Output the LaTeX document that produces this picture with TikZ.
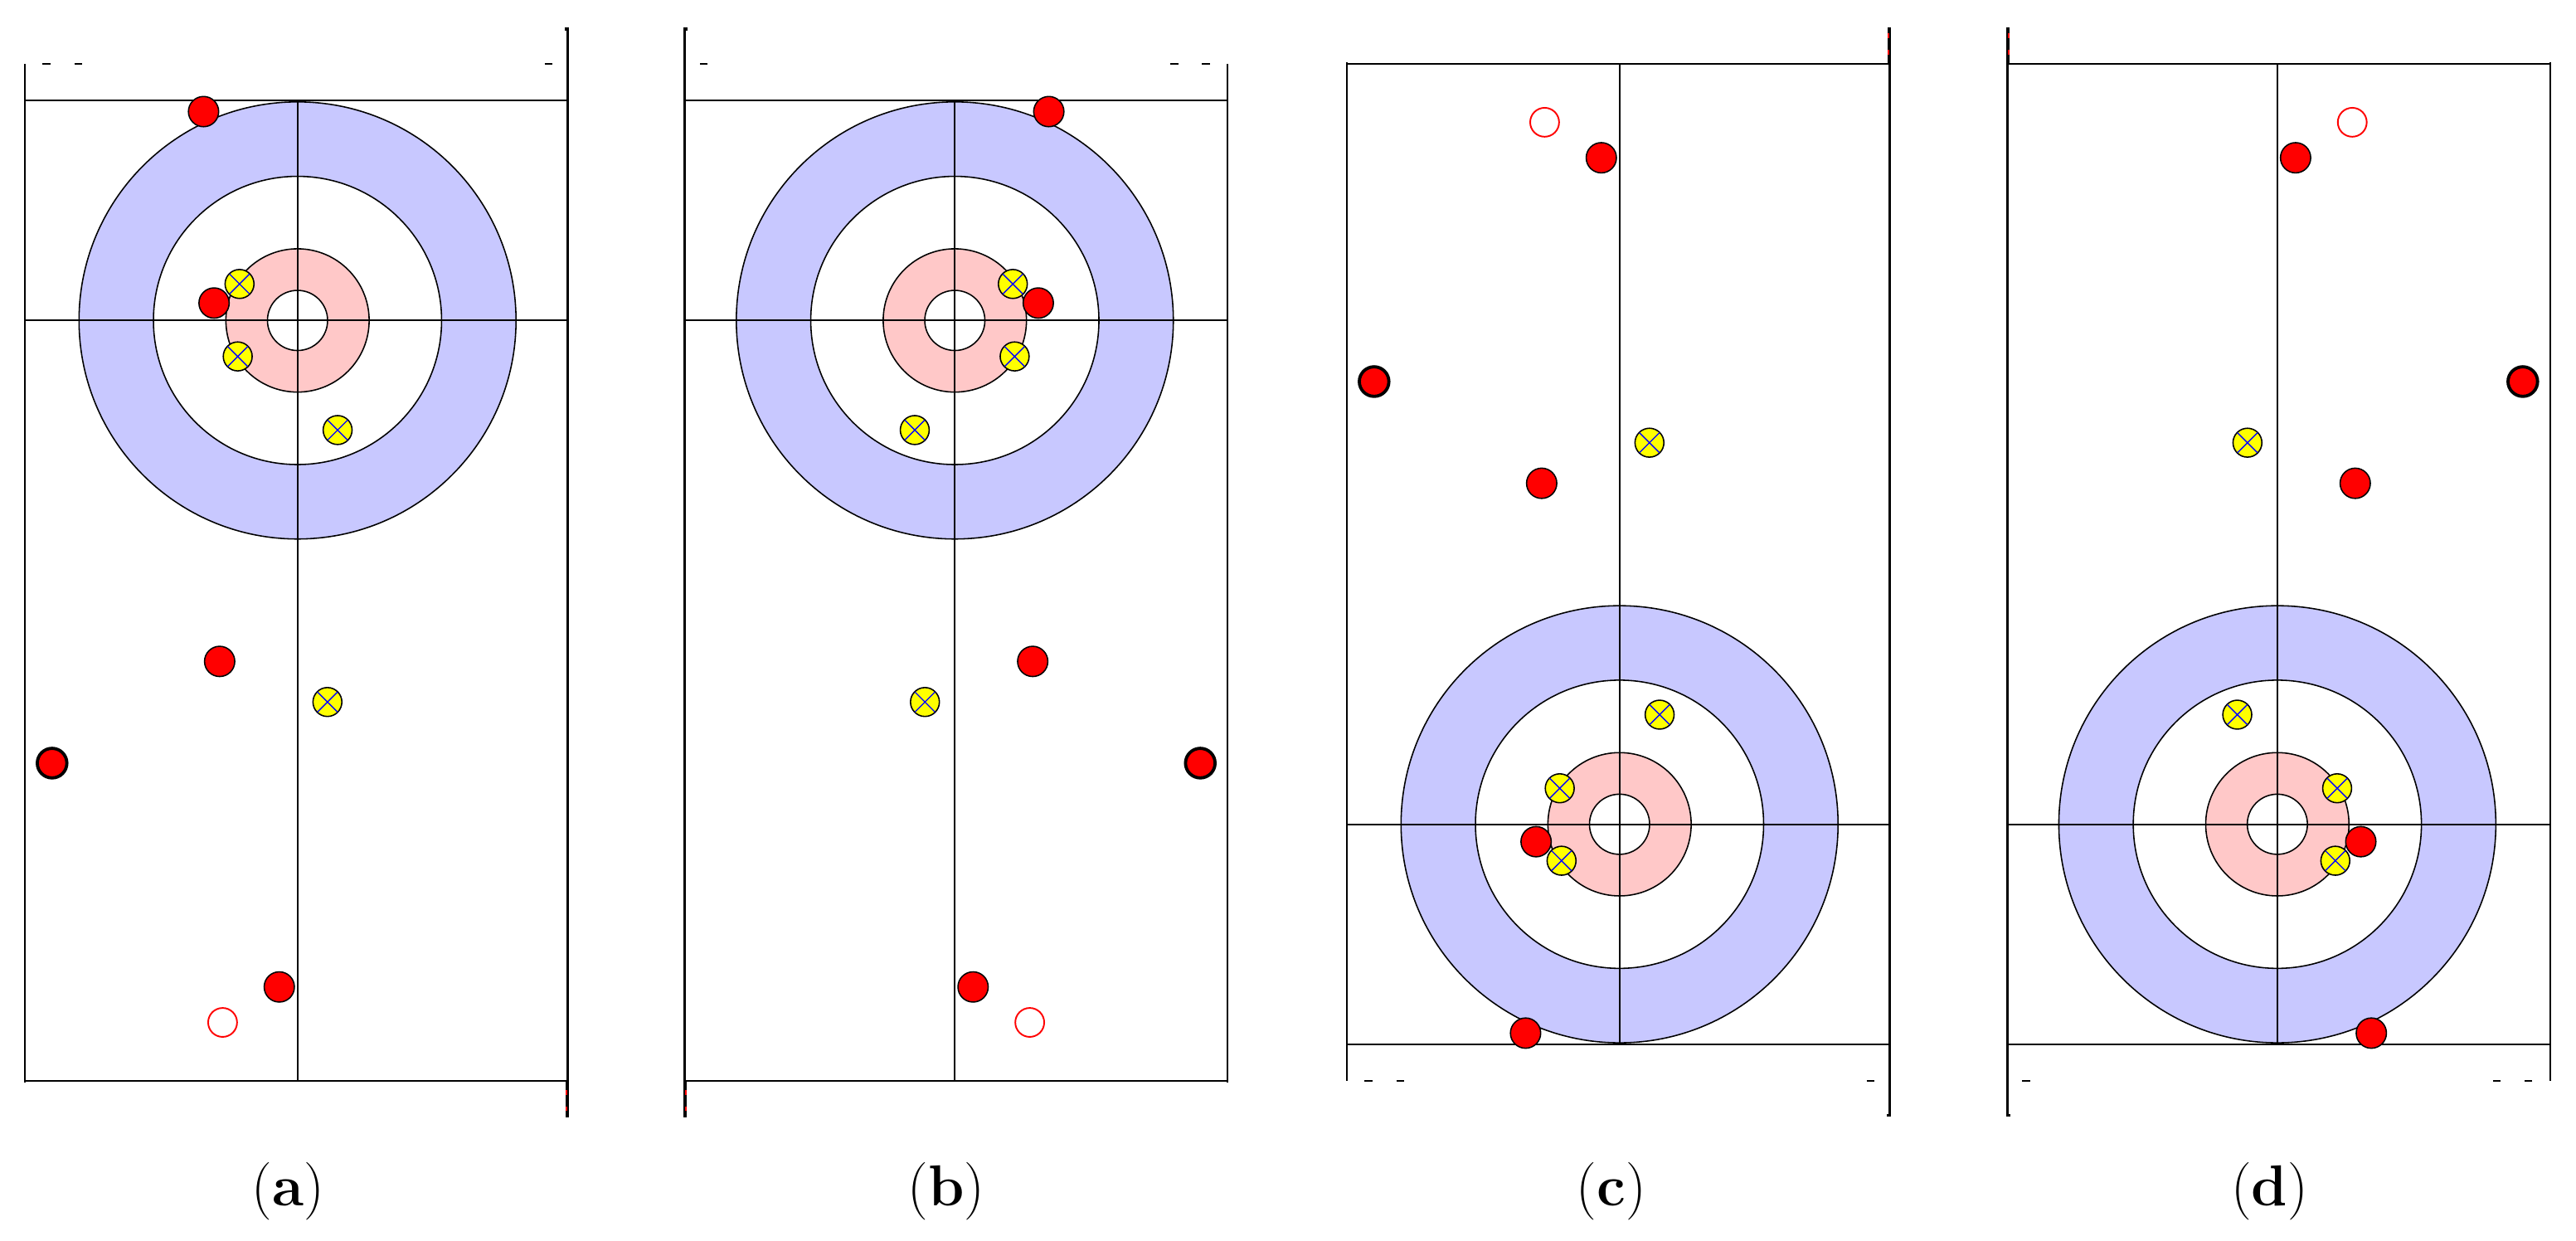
\documentclass[tikz,border=0pt]{standalone}
\usepackage{xcolor}
\definecolor{ringblue}{RGB}{200,200,255}
\definecolor{ringpink}{RGB}{255,200,200}
\definecolor{stonered}{RGB}{255,0,0}
\definecolor{stoneyellow}{RGB}{255,255,0}
\definecolor{xblue}{RGB}{0,0,255}
\tikzset{
  ringline/.style={draw=black, line width=0.45pt},
  sheetline/.style={draw=black, line width=0.6pt},
  longborder/.style={draw=black, line width=0.95pt},
  redstone/.style={fill=stonered, draw=black, line width=0.45pt},
  thickred/.style={fill=stonered, draw=black, line width=1.1pt},
  emptyred/.style={fill=white, draw=stonered, line width=0.55pt},
  yellowstone/.style={fill=stoneyellow, draw=black, line width=0.45pt},
  xmark/.style={draw=xblue, line width=0.4pt},
  dashmark/.style={draw=black, line width=0.6pt},
  caption/.style={font=\fontsize{20}{24}\selectfont, anchor=base, inner sep=0pt},
}
\newcommand\rstone[2]{\draw[redstone] (#1,#2) circle (9.2);}
\newcommand\ystone[2]{%
  \draw[yellowstone] (#1,#2) circle (8.8);
  \draw[xmark] (#1-6.1,#2-6.1) -- (#1+6.1,#2+6.1) (#1-6.1,#2+6.1) -- (#1+6.1,#2-6.1);}
\newcommand\curlsheet{%
  % house
  \draw[ringline, fill=ringblue] (0,0) circle (133);
  \draw[ringline, fill=white] (0,0) circle (87.7);
  \draw[ringline, fill=ringpink] (0,0) circle (43.6);
  \draw[ringline, fill=white] (0,0) circle (18.3);
  % sheet lines
  \draw[sheetline] (-166.1,-133.8) -- (164.4,-133.8);
  \draw[sheetline] (-166.1,0) -- (164.4,0);
  \draw[sheetline] (-166.1,462.6) -- (164.4,462.6);
  \draw[sheetline] (0,-133.8) -- (0,462.6);
  \draw[sheetline] (-166.1,-156.1) -- (-166.1,463.8);
  \draw[longborder] (162.6,-177.3) -- (164.4,-177.3) -- (164.4,462.6);
  \draw[line width=1.3pt] (164.1,462.6) -- (164.1,485);
  \fill[stonered] (163.2,468.4) rectangle (164.2,471.2);
  \fill[stonered] (163.2,478.4) rectangle (164.2,481.2);
  % small marks
  \draw[dashmark] (-155.2,-156.1) -- (-150.4,-156.1);
  \draw[dashmark] (-135.9,-156.1) -- (-131.1,-156.1);
  \draw[dashmark] (150.4,-156.1) -- (155.2,-156.1);
  % stones
  \rstone{-57.2}{-127.1}
  \ystone{-35.3}{-22.2}
  \rstone{-50.8}{-10.6}
  \ystone{-36.4}{21.9}
  \ystone{24.4}{66.7}
  \rstone{-47.4}{207.5}
  \ystone{18.2}{232.2}
  \draw[thickred] (-149.4,269.4) circle (9.0);
  \rstone{-11.1}{405.6}
  \draw[emptyred] (-45.6,427.2) circle (8.8);
}
\begin{document}
\begin{tikzpicture}[x=0.02cm,y=-0.02cm]
  \useasboundingbox (0,0) rectangle (1568,755);
  \fill[white] (0,0) rectangle (1568,755);
  \begin{scope}[shift={(181.1,195)}]
    \curlsheet
  \end{scope}
  \begin{scope}[shift={(581.2,195)}, xscale=-1]
    \curlsheet
  \end{scope}
  \begin{scope}[shift={(985.8,501.6)}, yscale=-1]
    \curlsheet
  \end{scope}
  \begin{scope}[shift={(1386.2,501.6)}, xscale=-1, yscale=-1]
    \curlsheet
  \end{scope}
  \node[caption] (la) at (175.5,734) {(\textbf{a})};
  \node[caption] (lb) at (576,734) {(\textbf{b})};
  \node[caption] (lc) at (980.8,734) {(\textbf{c})};
  \node[caption] (ld) at (1381.5,734) {(\textbf{d})};
\end{tikzpicture}
\end{document}
